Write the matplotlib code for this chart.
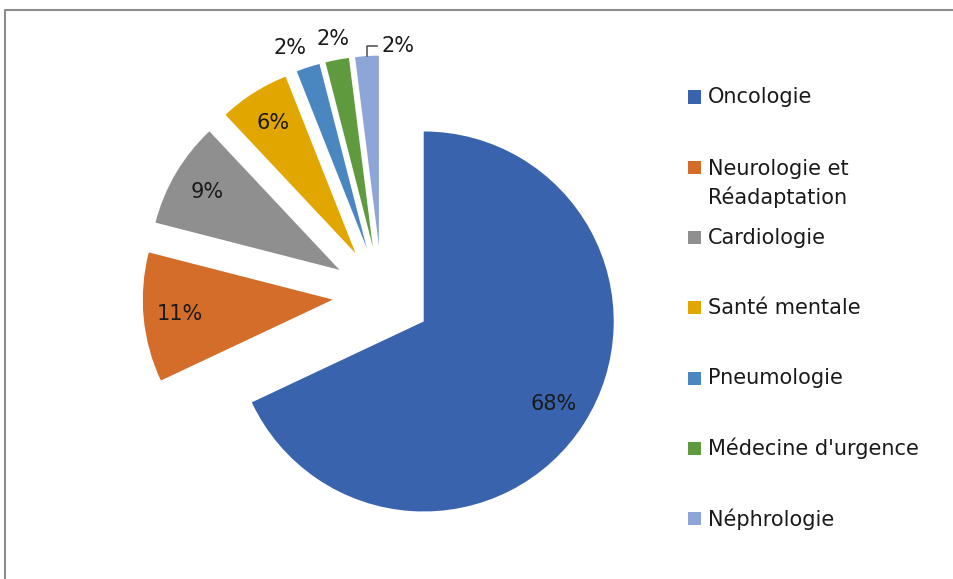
import numpy as np
import matplotlib
matplotlib.use("Agg")
from matplotlib import pyplot as plt
from matplotlib.patches import Rectangle
from matplotlib.lines import Line2D

# Data
categories = ["Oncologie", "Neurologie et\nRéadaptation", "Cardiologie", "Santé mentale",
              "Pneumologie", "Médecine d'urgence", "Néphrologie"]
values = [68, 11, 9, 6, 2, 2, 2]
pct_labels = ["68%", "11%", "9%", "6%", "2%", "2%", "2%"]
colors = ["#3A63AD", "#D36D29", "#8F8F8F", "#E1A700", "#4A87C1", "#5F9A3F", "#8EA5D8"]

W, H = 954, 579
R_PX = 190.0          # pie radius in pixels
CX, CY = 382, 295     # pie centre in pixels (from top-left)
FS = 15
TXT = "#1a1a1a"

plt.rcParams['font.family'] = ['DejaVu Sans']

fig = plt.figure(figsize=(W / 100, H / 100), dpi=100)
fig.patch.set_facecolor("white")
ax = fig.add_axes([0, 0, 1, 1])

wedges, _ = ax.pie(values, colors=colors, startangle=90, counterclock=False,
                   explode=[0.26] * len(values), radius=1,
                   wedgeprops=dict(linewidth=0))

ax.set_xlim(-CX / R_PX, (W - CX) / R_PX)
ax.set_ylim(-(H - CY) / R_PX, CY / R_PX)
ax.set_aspect("equal")
ax.axis("off")


def unit(deg):
    a = np.deg2rad(deg)
    return np.array([np.cos(a), np.sin(a)])


# Percentage labels
n_small = 0
for i, w in enumerate(wedges):
    mid = (w.theta1 + w.theta2) / 2
    c = np.array(w.center)
    if values[i] >= 5:
        p = c + 0.81 * unit(mid)
        ax.text(p[0], p[1], pct_labels[i], ha="center", va="center", fontsize=FS, color=TXT)
    elif i < len(wedges) - 1:
        # outside labels, spread slightly so they do not collide
        p = c + (1.13 - 0.02 * n_small) * unit(mid + 3 - 3 * n_small)
        n_small += 1
        ax.text(p[0], p[1], pct_labels[i], ha="center", va="center", fontsize=FS, color=TXT)
    else:
        # label with leader line
        s = c + 1.0 * unit(mid)
        corner = s + np.array([0, 0.055])
        end = corner + np.array([0.055, 0])
        ax.plot([s[0], corner[0], end[0]], [s[1], corner[1], end[1]], color="#595959", lw=1.2)
        ax.text(end[0] + 0.02, end[1], pct_labels[i], ha="left", va="center", fontsize=FS, color=TXT)

# Legend (drawn by hand to mimic the spreadsheet layout)
leg_x_box, leg_x_txt = 688, 708
leg_y0, leg_step = 97, 70.3
box = 13
line_gap = 33
for i, (lab, col) in enumerate(zip(categories, colors)):
    y = leg_y0 + i * leg_step
    fig.add_artist(Rectangle((leg_x_box / W, 1 - (y + box / 2) / H), box / W, box / H,
                             transform=fig.transFigure, facecolor=col, edgecolor="none"))
    n = lab.count("\n") + 1
    yt = y + (n - 1) * line_gap / 2
    fig.text(leg_x_txt / W, 1 - yt / H, lab, ha="left", va="center", fontsize=FS,
             color=TXT, linespacing=1.45)

# Chart area border (top and left visible)
fig.add_artist(Line2D([5 / W, 5 / W, 1], [0, 1 - 10 / H, 1 - 10 / H],
                      transform=fig.transFigure, color="#8c8c8c", lw=1.5))

fig.savefig("out.png", dpi=100, facecolor="white")
